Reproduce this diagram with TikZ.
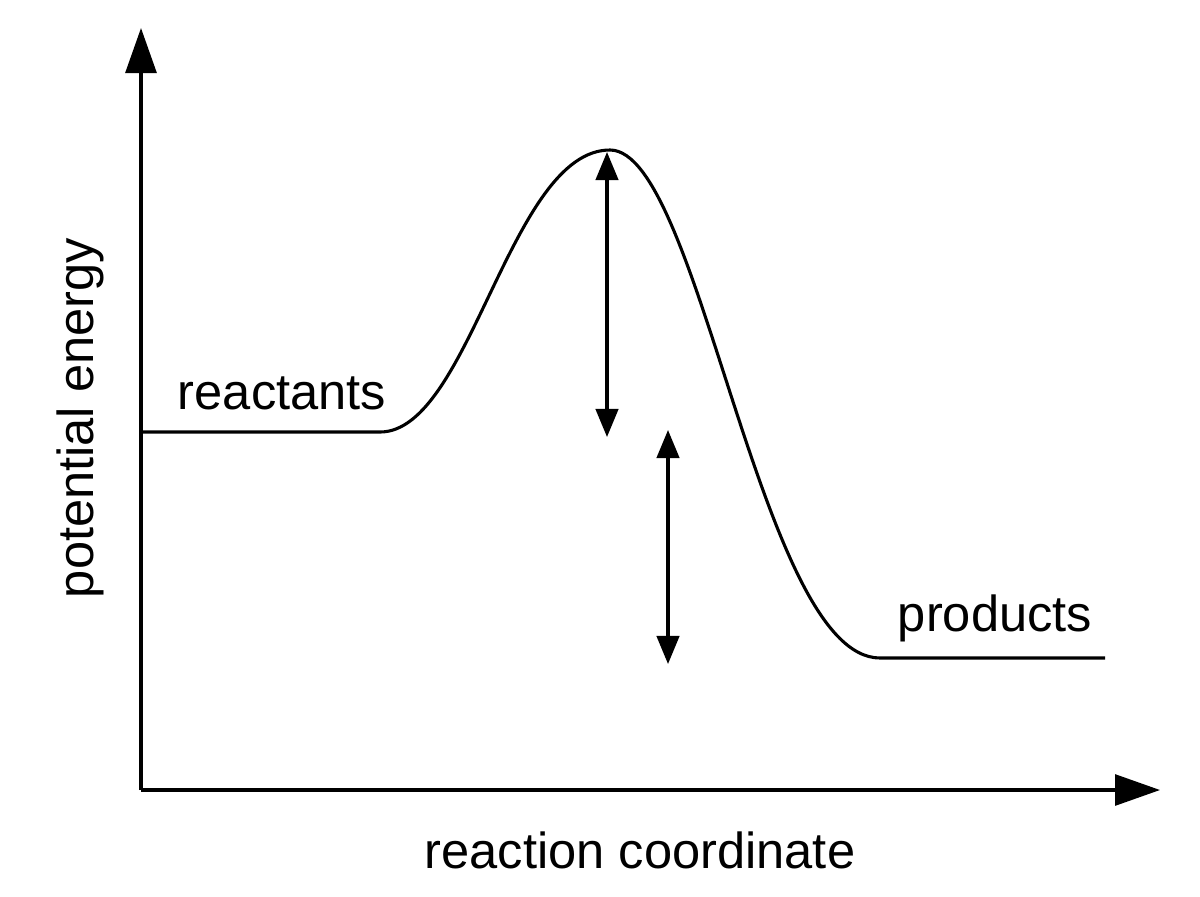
\documentclass[tikz,border=0pt]{standalone}
\usepackage{fontspec}
\setmainfont{Liberation Sans}
\usetikzlibrary{arrows.meta}
\tikzset{
  axis/.style={line width=2.2pt, -{Triangle[length=32pt,width=22pt]}},
  gap/.style={line width=2.2pt, {Triangle[length=20pt,width=16pt]}-{Triangle[length=20pt,width=16pt]}},
  lbl/.style={font=\fontsize{36}{40}\selectfont}
}
\begin{document}
\begin{tikzpicture}[x=0.025cm,y=-0.025cm]
        \useasboundingbox (0,0) rectangle (1200,896);

        \coordinate (o) at (141, 790);
        \coordinate (ytop) at (141, 28);
        \coordinate (xend) at (1160, 790);
        \draw[axis] (o) -- (ytop);
        \draw[axis] (o) -- (xend);

        \coordinate (rstart) at (141, 432);
        \coordinate (rend) at (380, 432);
        \coordinate (peak) at (610, 150);
        \coordinate (pstart) at (880, 658);
        \coordinate (pend) at (1105, 658);
        \draw[line width=2.2pt] (rstart) -- (rend)
            .. controls (470, 432) and (510, 150) .. (peak)
            .. controls (700, 150) and (760, 658) .. (pstart) -- (pend);

        \coordinate (ea1) at (607, 152);
        \coordinate (ea2) at (607, 437);
        \coordinate (dh1) at (668, 430);
        \coordinate (dh2) at (668, 664);
        \draw[gap] (ea1) -- (ea2);
        \draw[gap] (dh1) -- (dh2);

        \node[lbl] (reac) at (282, 393) {reactants};
        \node[lbl] (prod) at (995, 618) {products};
        \node[lbl] (xlab) at (640, 850) {reaction coordinate};
        \node[lbl, rotate=90] (ylab) at (80, 418) {potential energy};
\end{tikzpicture}
\end{document}
